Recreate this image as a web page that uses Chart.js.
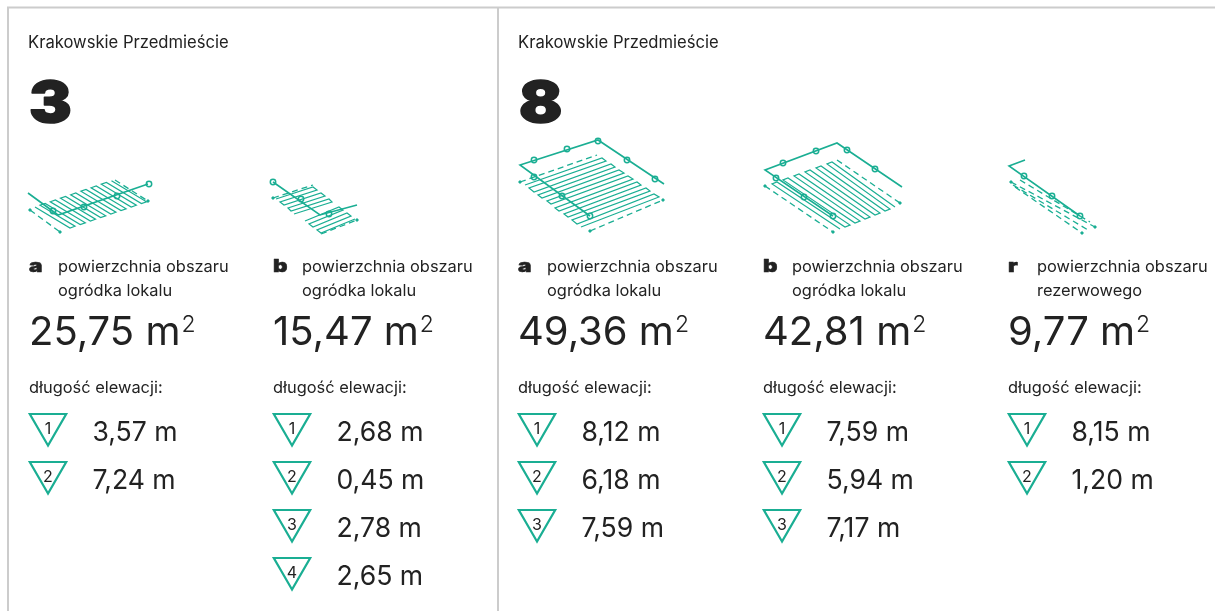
<!DOCTYPE html>
<html lang="pl">
<head>
<meta charset="utf-8">
<title>Krakowskie Przedmieście</title>
<script src="https://cdn.jsdelivr.net/npm/chart.js@4"></script>
<style>
  html, body { margin: 0; padding: 0; background: #fff; }
  canvas { display: block; }
</style>
</head>
<body>
<canvas id="plans" width="1215" height="611"></canvas>
<script>
const STREET_NAMES = ['Krakowskie Przedmieście', 'Krakowskie Przedmieście'];
const UNIT_NUMBERS = ['3', '8'];
const AREA_LETTERS = ['a', 'b', 'a', 'b', 'r'];
const AREA_LINE_1 = ['powierzchnia obszaru', 'powierzchnia obszaru', 'powierzchnia obszaru', 'powierzchnia obszaru', 'powierzchnia obszaru'];
const AREA_LINE_2 = ['ogródka lokalu', 'ogródka lokalu', 'ogródka lokalu', 'ogródka lokalu', 'rezerwowego'];
const AREA_VALUES = [25.75, 15.47, 49.36, 42.81, 9.77];
const ELEVATIONS = [
  [3.57, 7.24],
  [2.68, 0.45, 2.78, 2.65],
  [8.12, 6.18, 7.59],
  [7.59, 5.94, 7.17],
  [8.15, 1.20]
];
const ELEVATION_LABEL = 'długość elewacji:';

// plan outlines (axes run in picture units)
const WALLS = [
  [[28, 193], [58, 215], [148, 184]],
  [[273, 182], [320, 215], [357, 205]],
  [[590, 216], [520, 165], [598, 140], [664, 184]],
  [[833, 216], [765, 170], [837, 143], [902, 187]],
  [[1025, 160], [1009, 166], [1080, 216]]
];
const WALL_RINGS = [
  [[149, 184], [117, 196], [84, 207], [53, 211]],
  [[273, 182], [301, 199], [329, 214]],
  [[534, 160], [567, 149], [598, 141], [627, 160], [655, 179], [534, 177], [562, 196], [590, 216]],
  [[783, 163], [816, 151], [847, 150], [875, 169], [776, 178], [804, 197], [833, 216]],
  [[1024, 176], [1052, 196], [1080, 216]]
];
const HATCHES = [
  [[[35, 207], [70, 228], [75, 226.2], [40, 205.2], [45.2, 203.5], [80.2, 224.5], [85.3, 222.8], [50.3, 201.8], [55.4, 200], [90.4, 221], [95.5, 219.2], [60.5, 198.2], [65.6, 196.5], [100.6, 217.5], [105.7, 215.8], [70.7, 194.8], [75.8, 193], [110.8, 214], [115.9, 212.2], [80.9, 191.2], [86, 189.5], [121, 210.5], [126.1, 208.8], [91.1, 187.8], [96.2, 186], [131.2, 207], [136.3, 205.2], [101.3, 184.2], [106.4, 182.5], [141.4, 203.5], [146.5, 201.8], [111.5, 180.8]]],
  [[[276, 199], [313, 187], [317, 190], [280, 202], [284, 205], [321, 193], [325, 196], [288, 208], [291, 211], [329, 199], [332, 202], [294, 214]],
   [[305, 221], [339, 207], [343, 210], [309, 224], [313, 227], [347, 213], [351, 216], [317, 230], [321, 233], [355, 219]]],
  [[[525, 185], [602, 158], [606, 161], [529, 188], [534, 192], [611, 164], [615, 167], [538, 195], [542, 198], [619, 170], [624, 173], [547, 201], [551, 204], [628, 176], [633, 179], [555, 208], [559, 211], [637, 182], [641, 185], [564, 214], [568, 217], [646, 188], [650, 191], [572, 220], [577, 224], [654, 194], [659, 197], [581, 227]]],
  [[[840, 229], [772, 184], [777, 182], [845, 227], [850, 225], [783, 180], [788, 178], [855, 223], [860, 221], [794, 176], [799, 174], [865, 219], [870, 217], [805, 172], [810, 170], [875, 215], [880, 213], [816, 168], [821, 166], [885, 211], [890, 209], [827, 164], [832, 162], [895, 207]]],
  []
];
const SETBACKS = [
  [[[30, 210], [60, 232]], [[115, 180], [148, 201]]],
  [[[273, 198], [313, 185]], [[321, 234], [357, 220]]],
  [[[520, 182], [597, 155]], [[590, 231], [663, 200]]],
  [[[765, 186], [833, 232]], [[837, 160], [900, 203]]],
  [[[1011, 182], [1095, 227]], [[1015, 187], [1082, 233]], [[1020, 180], [1090, 222]], [[1013, 185], [1088, 230]]]
];
const SETBACK_TIPS = [
  [[30, 210], [60, 232], [148, 201]],
  [[273, 198], [357, 220]],
  [[520, 182], [590, 231], [663, 200]],
  [[765, 186], [833, 232], [900, 203]],
  [[1011, 182], [1095, 227], [1082, 233]]
];
const FRAME = [
  [[8, 611], [8, 7.5], [1215, 7.5]],
  [[498, 7.5], [498, 611]]
];

const TEAL = '#1aae93';
const INK = '#222222';
const FONT = 'Inter, sans-serif';
const COLUMN_X = [29, 273, 518, 763, 1008];
const PANEL_X = [28, 518];

let xy = (pairs) => pairs.map((p) => ({x: p[0], y: p[1]}));

let lineSet = (pairs, color, width, dash) => {
  return {
    data: xy(pairs),
    showLine: true,
    borderColor: color,
    borderWidth: width,
    borderDash: dash || [],
    pointRadius: 0,
    fill: false,
    clip: false
  };
};

let datasets = [];
FRAME.forEach((f) => datasets.push(lineSet(f, '#cccccc', 2)));
HATCHES.forEach((plan) => plan.forEach((h) => datasets.push(lineSet(h, TEAL, 1.2))));
SETBACKS.forEach((plan) => plan.forEach((s) => datasets.push(lineSet(s, TEAL, 1.3, [6, 4]))));
SETBACK_TIPS.forEach((t) => {
  datasets.push({
    data: xy(t),
    showLine: false,
    pointStyle: 'rectRot',
    pointRadius: 2,
    pointBorderWidth: 0,
    pointBackgroundColor: TEAL,
    clip: false
  });
});
WALLS.forEach((w) => datasets.push(lineSet(w, TEAL, 1.6)));
WALL_RINGS.forEach((r) => {
  datasets.push({
    data: xy(r),
    showLine: false,
    pointStyle: 'circle',
    pointRadius: 2.7,
    pointBorderWidth: 1.5,
    pointBackgroundColor: '#fff',
    pointBorderColor: TEAL,
    clip: false
  });
});
// elevation markers, one per value, stacked down each column
ELEVATIONS.forEach((list, c) => {
  datasets.push({
    data: list.map((v, i) => ({x: COLUMN_X[c] + 19, y: 424.5 + 48 * i})),
    showLine: false,
    pointStyle: 'triangle',
    rotation: 180,
    pointRadius: 21,
    pointBorderWidth: 2.2,
    pointBackgroundColor: 'rgba(0,0,0,0)',
    pointBorderColor: TEAL,
    clip: false
  });
});

let comma = (v) => v.toFixed(2).replace('.', ',');

const textPlugin = {
  id: 'planTexts',
  afterDatasetsDraw: (chart) => {
    const ctx = chart.ctx;
    const sx = chart.scales.x;
    const sy = chart.scales.y;
    let put = (text, x, y, font, align) => {
      ctx.font = font + ' ' + FONT;
      ctx.textAlign = align || 'left';
      ctx.fillText(text, sx.getPixelForValue(x), sy.getPixelForValue(y));
    };
    // the heavy wide face of the original: Inter black, stretched and thickened
    let heavy = (text, x, y, size, stretch, weight) => {
      ctx.save();
      ctx.translate(sx.getPixelForValue(x), sy.getPixelForValue(y));
      ctx.scale(stretch, 1);
      ctx.font = '900 ' + size + 'px ' + FONT;
      ctx.textAlign = 'left';
      ctx.strokeStyle = INK;
      ctx.lineWidth = weight;
      ctx.lineJoin = 'round';
      ctx.fillText(text, 0, 0);
      ctx.strokeText(text, 0, 0);
      ctx.restore();
    };
    ctx.save();
    ctx.fillStyle = INK;
    ctx.textBaseline = 'alphabetic';
    STREET_NAMES.forEach((t, i) => put(t, PANEL_X[i], 48, '400 16.6px'));
    UNIT_NUMBERS.forEach((t, i) => heavy(t, PANEL_X[i] + 1, 122, 57, 1.12, 1.6));
    COLUMN_X.forEach((x, c) => {
      heavy(AREA_LETTERS[c], x, 271.5, 18, 1.25, 0.5);
      put(AREA_LINE_1[c], x + 29, 272, '400 16.4px');
      put(AREA_LINE_2[c], x + 29, 296, '400 16.4px');
      let amount = comma(AREA_VALUES[c]) + ' m';
      put(amount, x, 345, '400 40px');
      let end = ctx.measureText(amount).width;
      put('2', x + end + 1, 332, '300 23px');
      put(ELEVATION_LABEL, x, 392.5, '400 16.4px');
      ELEVATIONS[c].forEach((v, i) => {
        put(String(i + 1), x + 19, 434 + 48 * i, '400 16px', 'center');
        put(comma(v) + ' m', x + 63.5, 441 + 48 * i, '400 26.6px');
      });
    });
    ctx.restore();
  }
};

new Chart(document.getElementById('plans'), {
  type: 'scatter',
  data: {datasets: datasets},
  options: {
    responsive: false,
    animation: false,
    layout: {padding: 0, autoPadding: false},
    plugins: {legend: {display: false}, tooltip: {enabled: false}},
    scales: {
      x: {type: 'linear', min: 0, max: 1215, display: false},
      y: {type: 'linear', min: 0, max: 611, reverse: true, display: false}
    }
  },
  plugins: [textPlugin]
});
</script>
</body>
</html>
